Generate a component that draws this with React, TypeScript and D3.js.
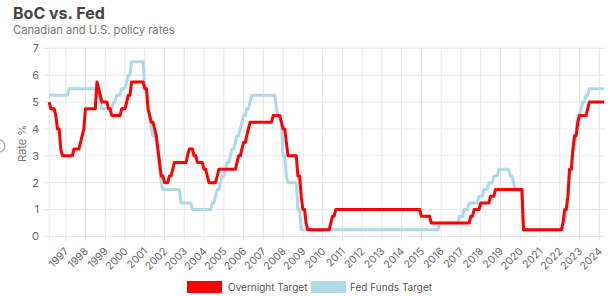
import React from "react";
import * as d3 from "d3";

const bocDates = [
  "1996-03", "1996-04", "1996-07", "1996-08", "1996-10", "1996-11", "1997-06", "1997-10", "1997-11", "1997-12",
  "1998-01", "1998-08", "1998-09", "1998-10", "1998-11", "1999-03", "1999-05", "1999-11", "2000-02", "2000-03",
  "2000-05", "2001-01", "2001-03", "2001-04", "2001-05", "2001-07", "2001-08", "2001-09", "2001-10", "2001-11",
  "2002-01", "2002-04", "2002-06", "2002-07", "2003-03", "2003-04", "2003-07", "2003-09", "2004-01", "2004-03",
  "2004-04", "2004-09", "2004-10", "2005-09", "2005-10", "2005-12", "2006-01", "2006-03", "2006-04", "2006-05",
  "2007-07", "2007-12", "2008-01", "2008-03", "2008-04", "2008-10", "2008-12", "2009-01", "2009-03", "2009-04",
  "2010-06", "2010-07", "2010-09", "2015-01", "2015-07", "2017-07", "2017-09", "2018-01", "2018-07", "2018-10",
  "2020-03", "2022-03", "2022-04", "2022-06", "2022-07", "2022-09", "2022-10", "2022-12", "2023-01", "2023-06",
  "2023-07",
];
const bocRates = [
  5.0, 4.75, 4.5, 4.0, 3.25, 3.0, 3.25, 3.5, 3.75, 4.0,
  4.75, 5.75, 5.5, 5.25, 5.0, 4.75, 4.5, 4.75, 5.0, 5.25,
  5.75, 5.5, 4.75, 4.5, 4.25, 4.0, 3.75, 3.25, 2.75, 2.25,
  2.0, 2.25, 2.5, 2.75, 3.0, 3.25, 3.0, 2.75, 2.5, 2.25,
  2.0, 2.25, 2.5, 2.75, 3.0, 3.25, 3.5, 3.75, 4.0, 4.25,
  4.5, 4.25, 4.0, 3.5, 3.0, 2.25, 1.5, 1.0, 0.5, 0.25,
  0.5, 0.75, 1.0, 0.75, 0.5, 0.75, 1.0, 1.25, 1.5, 1.75,
  0.25, 0.5, 1.0, 1.5, 2.5, 3.25, 3.75, 4.25, 4.5, 4.75,
  5.0,
];

const fedDates = [
  "1996-03", "1997-03", "1998-09", "1998-10", "1998-11", "1999-06", "1999-08", "1999-11", "2000-02", "2000-03",
  "2000-05", "2001-01", "2001-03", "2001-04", "2001-05", "2001-06", "2001-08", "2001-09", "2001-10", "2001-11",
  "2001-12", "2002-11", "2003-06", "2004-06", "2004-08", "2004-09", "2004-11", "2004-12", "2005-02", "2005-03",
  "2005-05", "2005-06", "2005-08", "2005-09", "2005-11", "2005-12", "2006-01", "2006-03", "2006-05", "2006-06",
  "2007-09", "2007-10", "2007-12", "2008-01", "2008-03", "2008-04", "2008-10", "2008-12", "2015-12", "2016-12",
  "2017-03", "2017-06", "2017-12", "2018-03", "2018-06", "2018-09", "2018-12", "2019-07", "2019-09", "2019-10",
  "2020-03", "2022-03", "2022-05", "2022-06", "2022-07", "2022-09", "2022-11", "2022-12", "2023-02", "2023-03",
  "2023-05", "2023-07",
];
const fedRates = [
  5.25, 5.5, 5.25, 5.0, 4.75, 5.0, 5.25, 5.5, 5.75, 6.0,
  6.5, 5.5, 5.0, 4.5, 4.0, 3.75, 3.5, 3.0, 2.5, 2.0,
  1.75, 1.25, 1.0, 1.25, 1.5, 1.75, 2.0, 2.25, 2.5, 2.75,
  3.0, 3.25, 3.5, 3.75, 4.0, 4.25, 4.5, 4.75, 5.0, 5.25,
  4.75, 4.5, 4.25, 3.0, 2.25, 2.0, 1.0, 0.25, 0.5, 0.75,
  1.0, 1.25, 1.5, 1.75, 2.0, 2.25, 2.5, 2.25, 2.0, 1.75,
  0.25, 0.5, 1.0, 1.75, 2.5, 3.25, 4.0, 4.5, 4.75, 5.0,
  5.25, 5.5,
];

const dataStart = "1996-03";
const dataEnd = "2024-04";
const yearLabels = [
  "1997", "1998", "1999", "2000", "2001", "2002", "2003", "2004", "2005", "2006",
  "2007", "2008", "2009", "2010", "2011", "2012", "2013", "2014", "2015", "2016",
  "2017", "2018", "2019", "2020", "2021", "2022", "2023", "2024",
];
const yTicks = [0, 1, 2, 3, 4, 5, 6, 7];
const seriesNames = ["Overnight Target", "Fed Funds Target"];
const seriesColors = ["#ff0000", "#add8e6"];

const parseMonth = d3.timeParse("%Y-%m");

type Pt = { t: Date; v: number };

function buildPoints(dates: string[], rates: number[], end: Date): Pt[] {
  const pts: Pt[] = [];
  dates.forEach((ds, i) => {
    const t = parseMonth(ds) as Date;
    if (i > 0) {
      const prev = d3.timeMonth.offset(t, -1);
      if (prev > pts[pts.length - 1].t) pts.push({ t: prev, v: rates[i - 1] });
    }
    pts.push({ t, v: rates[i] });
  });
  pts.push({ t: end, v: rates[rates.length - 1] });
  return pts;
}

const FONT = "Inter, 'Noto Sans', sans-serif";

export default function App() {
  const W = 610;
  const H = 296;
  const left = 49.2;
  const right = 604.2;
  const top = 48.3;
  const bottom = 236.5;

  const start = parseMonth(dataStart) as Date;
  const end = parseMonth(dataEnd) as Date;
  const x = d3.scaleTime().domain([start, end]).range([left, right]);
  const y = d3.scaleLinear().domain([0, 7]).range([bottom, top]);

  const line = d3
    .line<Pt>()
    .x((d) => x(d.t))
    .y((d) => y(d.v))
    .curve(d3.curveLinear);

  const boc = buildPoints(bocDates, bocRates, end);
  const fed = buildPoints(fedDates, fedRates, end);

  const grid = "#e6e6e6";
  const tickColor = "#666";

  return (
    <svg
      width={W}
      height={H}
      style={{ position: "absolute", left: 0, top: 0, background: "#fff" }}
      fontFamily={FONT}
    >
      <text x={13} y={18.5} fontSize={16} fontWeight={700} fill="#444">
        BoC vs. Fed
      </text>
      <text x={13} y={33.5} fontSize={11.2} fill="#777">
        Canadian and U.S. policy rates
      </text>

      {/* horizontal gridlines */}
      {yTicks.map((t) => (
        <g key={"y" + t}>
          <line x1={left - 6} x2={right + 1} y1={y(t)} y2={y(t)} stroke={grid} strokeWidth={1} />
          <text x={39} y={y(t)} dy="0.35em" textAnchor="end" fontSize={11} fill={tickColor}>
            {t}
          </text>
        </g>
      ))}
      {/* vertical gridlines */}
      <line x1={left} x2={left} y1={top} y2={bottom + 4} stroke={grid} />
      {yearLabels.map((lab) => {
        const xp = x(parseMonth(lab + "-01") as Date);
        return (
          <g key={lab}>
            <line x1={xp} x2={xp} y1={top} y2={bottom + 4} stroke={grid} strokeWidth={1} />
            <text
              transform={`translate(${xp - 1},${bottom + 11}) rotate(-45)`}
              textAnchor="end"
              dy="0.6em"
              fontSize={10.5}
              fill={tickColor}
            >
              {lab}
            </text>
          </g>
        );
      })}

      <text
        transform={`translate(26,${(top + bottom) / 2 + 1}) rotate(-90)`}
        textAnchor="middle"
        fontSize={11}
        fill="#777"
      >
        Rate %
      </text>

      <circle cx={-1} cy={146} r={6} fill="none" stroke="#aaa" strokeWidth={1.3} />

      <path d={line(fed) || ""} fill="none" stroke={seriesColors[1]} strokeWidth={3} strokeLinejoin="round" />
      <path d={line(boc) || ""} fill="none" stroke={seriesColors[0]} strokeWidth={3} strokeLinejoin="round" />

      {/* legend */}
      <rect x={187} y={281} width={35} height={12} fill={seriesColors[0]} />
      <text x={228} y={291} fontSize={10} fill="#555">
        {seriesNames[0]}
      </text>
      <rect x={311} y={281} width={35} height={12} fill={seriesColors[1]} />
      <text x={350} y={291} fontSize={10} fill="#555">
        {seriesNames[1]}
      </text>
    </svg>
  );
}
